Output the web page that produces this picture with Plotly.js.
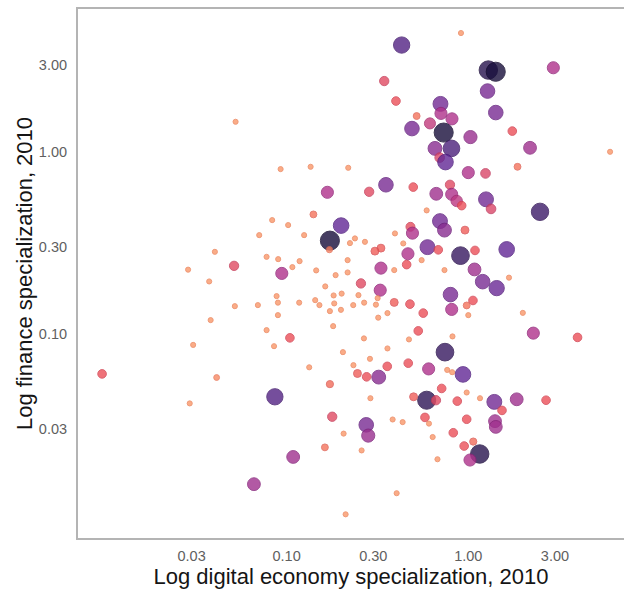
<!DOCTYPE html>
<html>
<head>
<meta charset="utf-8">
<script src="https://cdn.plot.ly/plotly-3.0.1.min.js"></script>
<style>
  html, body { margin: 0; padding: 0; background: #ffffff; }
  #chart { width: 624px; height: 589px; }
</style>
</head>
<body>
<div id="chart"></div>
<script>
// Digital economy specialization (x) and finance specialization (y), 2010
const digitalSpec = [0.00965,0.0524,0.0403,0.0287,0.0375,0.0382,0.0306,0.0412,0.0293,0.0514,
  0.0707,0.0833,0.102,0.0927,0.1356,0.2184,0.1249,0.0776,0.0899,0.1076,
  0.1179,0.1455,0.1861,0.2167,0.2167,0.2232,0.1677,0.1405,0.1996,0.1731,
  0.1721,0.0941,0.4298,0.9115,0.3446,0.3999,0.5198,0.703,0.4898,0.6153,
  0.7075,0.8132,0.7321,1.028,0.6557,0.8081,0.6959,0.749,1.0,1.244,
  1.289,1.416,2.938,1.276,1.417,1.747,2.187,6.03,1.866,0.3522,
  0.2847,0.4979,0.6666,0.7929,0.8102,0.8632,0.9197,1.252,1.334,2.482,
  0.5901,0.6986,0.7396,0.959,0.4805,0.4929,0.3948,0.2378,0.2699,0.3306,
  0.3063,0.4386,0.5962,0.6836,0.5537,0.4655,0.4579,0.3306,0.3912,0.7396,
  0.9059,1.089,1.082,1.627,1.675,1.2,1.433,0.2565,0.3276,0.798,
  0.8102,1.061,0.9799,1.0,1.996,2.28,3.993,0.0881,0.0896,0.0896,
  0.0519,0.0695,0.1173,0.1437,0.1516,0.1632,0.1815,0.2009,0.1829,0.1991,
  0.1731,0.2327,0.2486,0.2672,0.3102,0.317,0.3912,0.4775,0.5651,0.359,
  0.3194,0.0776,0.1043,0.0853,0.1804,0.5305,0.2665,0.4715,0.8185,0.359,
  0.2042,0.7443,0.935,0.6051,0.4673,0.3581,0.3214,0.2758,0.2455,0.2333,
  0.2876,0.7654,0.8153,0.1332,0.1731,0.0862,0.5901,0.6639,0.7137,0.4999,
  0.8699,0.9799,1.16,0.2893,1.391,1.533,1.403,1.417,1.847,2.679,
  0.9799,0.5776,0.6075,0.3834,0.4353,0.1783,0.2744,0.2814,0.206,0.2588,
  0.1625,0.1087,0.0661,0.6368,0.8268,1.065,0.9493,1.156,1.022,0.6767,
  0.4034,0.2113];

const financeSpec = [0.0599,1.463,0.2814,0.2245,0.1933,0.1184,0.0865,0.0572,0.0412,0.2356,
  0.3477,0.4206,0.3949,0.8029,0.8268,0.8164,0.3477,0.2641,0.2565,0.2318,
  0.2501,0.2223,0.2094,0.2532,0.2167,0.3142,0.5984,0.4521,0.3924,0.3243,
  0.2893,0.214,3.869,4.504,2.451,1.902,1.573,1.835,1.342,1.433,
  1.627,1.518,1.276,1.205,1.044,1.044,0.9291,0.8776,0.768,0.7603,
  2.818,2.758,2.901,2.159,1.644,1.3,1.052,1.0,0.8268,0.6582,
  0.6022,0.6392,0.5872,0.6582,0.5834,0.5365,0.5054,0.5474,0.4848,0.4673,
  0.4757,0.4153,0.3705,0.3705,0.3864,0.3566,0.3553,0.3335,0.3194,0.2949,
  0.2839,0.313,0.2986,0.2886,0.2532,0.2744,0.2393,0.2289,0.2232,0.2232,
  0.2681,0.2864,0.2251,0.2901,0.2029,0.1928,0.1776,0.1885,0.1731,0.1636,
  0.1356,0.1519,0.1426,0.1261,0.1298,0.1004,0.0951,0.1605,0.1478,0.1261,
  0.1413,0.1432,0.1478,0.1525,0.1432,0.1815,0.1619,0.1657,0.1463,0.1349,
  0.1327,0.1432,0.1625,0.1478,0.1441,0.1564,0.1482,0.145,0.1294,0.1294,
  0.1222,0.1043,0.0946,0.0851,0.1097,0.1033,0.0939,0.0927,0.0963,0.0827,
  0.0789,0.0789,0.0595,0.0638,0.0686,0.0659,0.0575,0.0577,0.0602,0.0669,
  0.0725,0.063,0.0612,0.0651,0.0526,0.0448,0.0429,0.0429,0.0498,0.0448,
  0.0424,0.0473,0.044,0.044,0.042,0.0377,0.0329,0.0306,0.0434,0.0429,
  0.0337,0.0345,0.0319,0.0336,0.0325,0.0348,0.0314,0.0274,0.0281,0.0227,
  0.0236,0.0209,0.0148,0.0269,0.0284,0.0254,0.024,0.0217,0.0201,0.0203,
  0.0132,0.0101];

// Third variable, shown through both point size and colour
const weight = [2,1,1,1,1,1,1,1.2,1,2.2,
  1,1,1,1,1,1,1,1,1,1,
  1,1,1,1,1,1,3,1.5,4,5,
  1.3,3,4.2,1,2.2,2,1.5,3.8,3.7,2.7,
  3,3,5,3.3,3.5,4.3,2.3,4,3,2.3,
  4.8,5,3,3.7,3.7,2,3.2,1,1.5,3.7,
  2.2,2,3.2,2.2,3,2.8,2,3.8,2.3,4.5,
  1,3.8,3.5,1.8,2.1,3,1,1,1,1.8,
  1.8,1,3.8,2,1,3,2,3,1,1,
  4.6,2,3.2,4,1,3.7,3.9,2.2,3,3.7,
  3,2,1.5,1,1,3,2,1,1,1,
  1,1,1,1,1,1,1,1,1,1,
  1,1,1,1,1,1,1.8,2,2,1,
  1,1,2,1,1,2,1,1,1,1,
  1,4.6,4,3,2,2,3.5,2,1.8,1,
  1,1,1,1,1.6,4.2,4.7,2.2,2,1.8,
  2,1,1,1,3.8,2,3.2,3.2,3.2,2,
  2,2,1,1,1,2.2,3.7,3.3,1,1,
  1.5,3.2,3.2,1,2,1.6,2,4.8,3,1,
  1,1];

const tickVals = [0.03, 0.1, 0.3, 1, 3];
const tickText = ['0.03', '0.10', '0.30', '1.00', '3.00'];

// magma-like ramp: light orange for small weights, near-black purple for large
const fillScale = [
  [0.0, 'rgb(250,152,106)'],
  [0.125, 'rgb(244,116,92)'],
  [0.25, 'rgb(236,80,88)'],
  [0.5, 'rgb(176,50,140)'],
  [0.75, 'rgb(98,40,150)'],
  [1.0, 'rgb(24,14,60)']
];
const rimScale = [
  [0.0, 'rgb(236,130,88)'],
  [0.25, 'rgb(210,62,78)'],
  [0.5, 'rgb(145,36,120)'],
  [0.75, 'rgb(78,28,125)'],
  [1.0, 'rgb(16,8,42)']
];

const markerSizes = weight.map(w => 1.6 + 3.5 * w);

const trace = {
  type: 'scatter',
  mode: 'markers',
  x: digitalSpec,
  y: financeSpec,
  hoverinfo: 'x+y',
  marker: {
    size: markerSizes,
    color: weight,
    cmin: 1,
    cmax: 5,
    colorscale: fillScale,
    showscale: false,
    opacity: 0.8,
    line: { width: 1, color: weight, cmin: 1, cmax: 5, colorscale: rimScale }
  }
};

const tickFont = { family: 'Liberation Sans, Arial, sans-serif', size: 14.5, color: '#5f5f5f' };
const titleFont = { family: 'Liberation Sans, Arial, sans-serif', size: 22, color: '#151515' };

const layout = {
  width: 624,
  height: 589,
  margin: { l: 78, r: 0, t: 9, b: 51 },
  paper_bgcolor: '#ffffff',
  plot_bgcolor: '#ffffff',
  showlegend: false,
  xaxis: {
    type: 'log',
    range: [-2.148, 0.857],
    tickvals: tickVals,
    ticktext: tickText,
    tickfont: tickFont,
    ticks: 'outside',
    ticklen: 4,
    tickcolor: 'rgba(0,0,0,0)',
    showgrid: false,
    zeroline: false,
    showline: true,
    linecolor: '#b4b4b4',
    linewidth: 2,
    mirror: true,
    title: { text: 'Log digital economy specialization, 2010', font: titleFont, standoff: 8 }
  },
  yaxis: {
    type: 'log',
    range: [-2.126, 0.786],
    tickvals: tickVals,
    ticktext: tickText,
    tickfont: tickFont,
    ticks: 'outside',
    ticklen: 6,
    tickcolor: 'rgba(0,0,0,0)',
    showgrid: false,
    zeroline: false,
    showline: true,
    linecolor: '#b4b4b4',
    linewidth: 2,
    mirror: false,
    title: { text: 'Log finance specialization, 2010', font: titleFont, standoff: 0 }
  }
};

Plotly.newPlot('chart', [trace], layout, { displayModeBar: false, staticPlot: true });
</script>
</body>
</html>
